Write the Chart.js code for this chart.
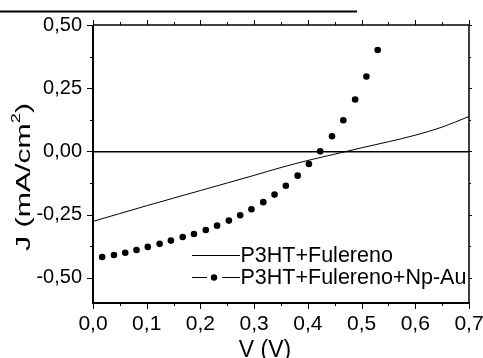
<!DOCTYPE html>
<html lang="es">
  <head>
    <meta charset="UTF-8">
    <title>J-V P3HT+Fulereno</title>
    <script src="https://cdn.jsdelivr.net/npm/chart.js@4.4.1/dist/chart.umd.min.js"></script>
    <style>
      html, body { margin: 0; padding: 0; background: #fff; }
    </style>
  </head>
  <body>
    <canvas id="chart" width="483" height="358"></canvas>
    <script>
    // curva continua: P3HT+Fulereno
    const voltageLine = [0.00, 0.05, 0.10, 0.15, 0.20, 0.25, 0.30, 0.35, 0.40, 0.45, 0.50, 0.55, 0.60, 0.65, 0.70];
    const currentLine = [-0.277, -0.246, -0.215, -0.185, -0.155, -0.125, -0.095, -0.064, -0.036, -0.011, 0.014, 0.038, 0.064, 0.096, 0.138];

    // puntos: P3HT+Fulereno+Np-Au
    const voltageDots = [0.017, 0.039, 0.060, 0.081, 0.102, 0.124, 0.145, 0.167, 0.188, 0.210, 0.231, 0.253, 0.274,
                         0.295, 0.317, 0.338, 0.359, 0.381, 0.402, 0.423, 0.445, 0.466, 0.488, 0.509, 0.530];
    const currentDots = [-0.418, -0.410, -0.401, -0.390, -0.378, -0.366, -0.353, -0.339, -0.327, -0.311, -0.294, -0.274, -0.253,
                         -0.229, -0.201, -0.171, -0.136, -0.096, -0.050, 0.000, 0.060, 0.123, 0.205, 0.296, 0.401];

    const seriesNames = ['P3HT+Fulereno', 'P3HT+Fulereno+Np-Au'];

    const xTicks = [0.0, 0.1, 0.2, 0.3, 0.4, 0.5, 0.6, 0.7];
    const xTickLabels = ['0,0', '0,1', '0,2', '0,3', '0,4', '0,5', '0,6', '0,7'];
    const yTicks = [-0.5, -0.25, 0, 0.25, 0.5];
    const yTickLabels = ['-0,50', '-0,25', '0,00', '0,25', '0,50'];

    const FONT = '"Liberation Sans", Arial, sans-serif';

    // marco, marcas menores, títulos y leyenda
    const decorations = {
      id: 'decorations',
      afterDraw(chart) {
        const ctx = chart.ctx;
        const a = chart.chartArea;
        const xs = chart.scales.x, ys = chart.scales.y;
        ctx.save();
        ctx.strokeStyle = '#000';
        ctx.fillStyle = '#000';

        // línea suelta arriba
        ctx.lineWidth = 2;
        ctx.beginPath(); ctx.moveTo(0, 11.5); ctx.lineTo(357, 11.5); ctx.stroke();

        // marco
        ctx.lineWidth = 1.5;
        ctx.beginPath();
        ctx.moveTo(a.left, a.top); ctx.lineTo(a.right, a.top); ctx.lineTo(a.right, a.bottom);
        ctx.stroke();
        ctx.lineWidth = 2;
        ctx.beginPath();
        ctx.moveTo(a.left, a.top); ctx.lineTo(a.left, a.bottom); ctx.lineTo(a.right, a.bottom);
        ctx.stroke();

        // marcas
        ctx.lineWidth = 1;
        for (let v = 0; v <= 0.7001; v += 0.05) {
          const major = Math.abs(v * 10 - Math.round(v * 10)) < 1e-6;
          const px = Math.round(xs.getPixelForValue(v)) + 0.5;
          ctx.beginPath();
          ctx.moveTo(px, a.bottom); ctx.lineTo(px, a.bottom + (major ? 6 : 3));
          ctx.moveTo(px, a.top); ctx.lineTo(px, a.top - (major ? 5 : 3));
          ctx.stroke();
        }
        for (let v = -0.5; v <= 0.5001; v += 0.125) {
          const major = Math.abs(v * 4 - Math.round(v * 4)) < 1e-6;
          const py = Math.round(ys.getPixelForValue(v)) + 0.5;
          ctx.beginPath();
          ctx.moveTo(a.left, py); ctx.lineTo(a.left - (major ? 6 : 3), py);
          ctx.moveTo(a.right, py); ctx.lineTo(a.right + (major ? 3 : 2), py);
          ctx.stroke();
        }

        // título eje x
        ctx.font = '23px ' + FONT;
        ctx.textAlign = 'center';
        ctx.textBaseline = 'alphabetic';
        ctx.fillText('V (V)', 265, 357);

        // título eje y (con superíndice)
        ctx.translate(24, 177);
        ctx.rotate(-Math.PI / 2);
        const big = '20px ' + FONT, small = '12px ' + FONT;
        ctx.font = big;
        const w1 = ctx.measureText('J (mA/cm').width;
        const w3 = ctx.measureText(')').width;
        ctx.font = small;
        const w2 = ctx.measureText('2').width;
        const total = w1 + w2 + w3;
        ctx.scale(148 / total, 1);
        ctx.textAlign = 'left';
        ctx.textBaseline = 'middle';
        let cx = -total / 2;
        ctx.font = big;
        ctx.fillText('J (mA/cm', cx, 0); cx += w1;
        ctx.font = small;
        ctx.fillText('2', cx, -7); cx += w2;
        ctx.font = big;
        ctx.fillText(')', cx, 0);
        ctx.restore();

        // leyenda
        ctx.save();
        ctx.strokeStyle = '#000';
        ctx.fillStyle = '#000';
        ctx.font = '21.5px ' + FONT;
        ctx.textAlign = 'left';
        ctx.textBaseline = 'middle';
        ctx.lineWidth = 1;
        ctx.beginPath(); ctx.moveTo(192, 255.5); ctx.lineTo(240, 255.5); ctx.stroke();
        ctx.fillText(chart.data.datasets[0].label, 240.5, 256);
        ctx.beginPath();
        ctx.moveTo(192, 277.5); ctx.lineTo(207, 277.5);
        ctx.moveTo(222, 277.5); ctx.lineTo(240, 277.5);
        ctx.stroke();
        ctx.beginPath(); ctx.arc(214, 277.5, 3.2, 0, Math.PI * 2); ctx.fill();
        ctx.fillText(chart.data.datasets[1].label, 240.5, 278);
        ctx.restore();
      }
    };

    const ctx = document.getElementById('chart').getContext('2d');
    const chart = new Chart(ctx, {
      type: 'scatter',
      data: {
        datasets: [
          {
            label: seriesNames[0],
            data: voltageLine.map((v, i) => ({ x: v, y: currentLine[i] })),
            showLine: true,
            borderColor: '#000',
            borderWidth: 1,
            pointRadius: 0,
            cubicInterpolationMode: 'monotone'
          },
          {
            label: seriesNames[1],
            data: voltageDots.map((v, i) => ({ x: v, y: currentDots[i] })),
            showLine: false,
            pointRadius: 3.3,
            pointBackgroundColor: '#000',
            pointBorderWidth: 0
          }
        ]
      },
      options: {
        responsive: false,
        animation: false,
        layout: { padding: { left: 0, top: 25, right: 14, bottom: 0 } },
        plugins: { legend: { display: false }, tooltip: { enabled: false } },
        scales: {
          x: {
            type: 'linear',
            min: 0, max: 0.7,
            grid: { display: false },
            border: { display: false },
            afterBuildTicks: s => { s.ticks = xTicks.map(v => ({ value: v })); },
            afterFit: s => { s.height = 55; s.paddingLeft = 0; s.paddingRight = 0; },
            ticks: {
              color: '#000',
              padding: 1,
              maxRotation: 0,
              font: { family: FONT, size: 21 },
              callback: (v, i) => xTickLabels[i]
            }
          },
          y: {
            type: 'linear',
            min: -0.6, max: 0.5,
            grid: {
              drawTicks: false,
              lineWidth: 1.5,
              color: c => (c.tick && c.tick.value === 0 ? '#000' : 'rgba(0,0,0,0)')
            },
            border: { display: false },
            afterBuildTicks: s => { s.ticks = yTicks.map(v => ({ value: v })); },
            afterFit: s => { s.width = 93; s.paddingTop = 0; s.paddingBottom = 0; },
            ticks: {
              color: '#000',
              padding: 11,
              font: { family: FONT, size: 20 },
              callback: (v, i) => yTickLabels[i]
            }
          }
        }
      },
      plugins: [decorations]
    });
    </script>
  </body>
</html>
